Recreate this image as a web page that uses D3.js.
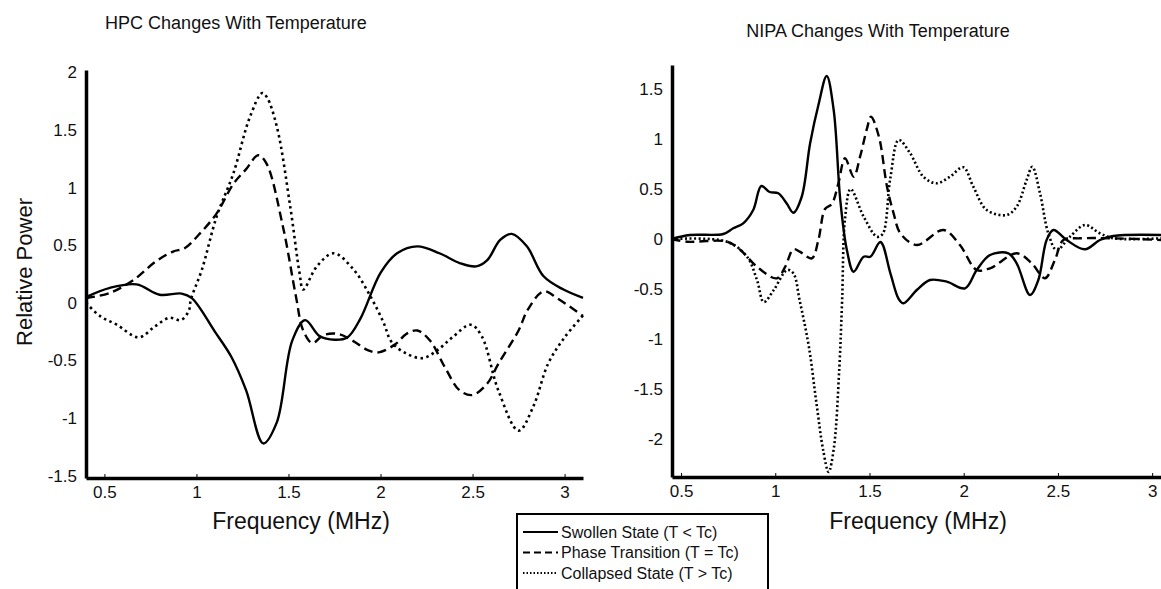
<!DOCTYPE html>
<html>
<head>
<meta charset="utf-8">
<script src="https://cdn.jsdelivr.net/npm/d3@7"></script>
<style>
  body { margin: 0; background: #fff; }
  text { font-family: "Liberation Sans", Arial, sans-serif; fill: #111; }
  .axis path, .axis line { stroke: #000; }
  .axis path { stroke-width: 3.5; }
  .axis line { stroke-width: 1; }
</style>
</head>
<body>
<div id="chart"></div>
<script>
// series: [frequency MHz, relative power]
const hpcSwollen = [[0.40,0.05],[0.53,0.13],[0.675,0.16],[0.80,0.07],[0.92,0.08],[0.975,0.04],[1.10,-0.25],
  [1.19,-0.47],[1.27,-0.76],[1.363,-1.22],[1.436,-1.04],[1.52,-0.33],[1.59,-0.15],[1.67,-0.29],[1.75,-0.32],
  [1.82,-0.30],[1.89,-0.14],[2.0,0.26],[2.09,0.43],[2.20,0.49],[2.32,0.43],[2.43,0.345],[2.52,0.316],
  [2.58,0.37],[2.65,0.546],[2.713,0.598],[2.795,0.49],[2.886,0.23],[2.994,0.115],[3.10,0.043]]
const hpcTransition = [[0.40,0.04],[0.53,0.086],[0.66,0.20],[0.78,0.36],[0.873,0.445],[0.936,0.474],[1.018,0.60],
  [1.11,0.776],[1.20,1.03],[1.27,1.16],[1.335,1.28],[1.38,1.21],[1.47,0.66],[1.54,0.06],[1.58,-0.24],
  [1.63,-0.35],[1.69,-0.28],[1.77,-0.27],[1.85,-0.33],[1.93,-0.41],[1.99,-0.43],[2.08,-0.36],[2.14,-0.27],
  [2.20,-0.24],[2.27,-0.33],[2.35,-0.56],[2.43,-0.76],[2.50,-0.80],[2.58,-0.70],[2.64,-0.53],[2.75,-0.24],
  [2.80,-0.06],[2.886,0.10],[2.96,0.04],[3.10,-0.115]]
const hpcCollapsed = [[0.40,0.0],[0.476,-0.115],[0.567,-0.19],[0.687,-0.30],[0.77,-0.21],[0.853,-0.13],[0.916,-0.15],
  [0.958,-0.07],[0.97,0.03],[1.03,0.29],[1.11,0.75],[1.20,1.12],[1.29,1.61],[1.357,1.82],[1.384,1.78],
  [1.438,1.52],[1.51,0.83],[1.56,0.26],[1.58,0.115],[1.654,0.316],[1.745,0.43],[1.853,0.29],[1.944,0.06],
  [2.016,-0.17],[2.06,-0.34],[2.14,-0.44],[2.23,-0.48],[2.31,-0.41],[2.39,-0.30],[2.49,-0.19],[2.55,-0.29],
  [2.64,-0.76],[2.75,-1.11],[2.83,-0.90],[2.91,-0.53],[3.0,-0.30],[3.10,-0.11]]

const nipaSwollen = [[0.45,0],[0.547,0.04],[0.724,0.05],[0.777,0.107],[0.83,0.157],[0.883,0.29],[0.926,0.53],
  [0.97,0.47],[1.016,0.457],[1.06,0.357],[1.096,0.263],[1.14,0.42],[1.185,0.957],[1.229,1.34],[1.273,1.63],
  [1.31,1.29],[1.345,0.39],[1.38,-0.11],[1.416,-0.327],[1.469,-0.177],[1.505,-0.177],[1.558,-0.03],
  [1.611,-0.343],[1.655,-0.60],[1.68,-0.643],[1.751,-0.51],[1.821,-0.41],[1.91,-0.427],[2.007,-0.493],
  [2.069,-0.31],[2.14,-0.16],[2.237,-0.143],[2.281,-0.243],[2.352,-0.56],[2.396,-0.41],[2.44,-0.01],
  [2.476,0.09],[2.546,-0.01],[2.643,-0.103],[2.723,-0.01],[2.794,0.03],[3.047,0.04]]
const nipaTransition = [[0.45,0],[0.531,-0.027],[0.744,-0.027],[0.815,-0.11],[0.903,-0.277],[1.008,-0.393],
  [1.053,-0.277],[1.096,-0.103],[1.13,-0.127],[1.194,-0.193],[1.23,0.0],[1.264,0.3],[1.30,0.35],[1.335,0.557],
  [1.37,0.807],[1.416,0.623],[1.45,0.823],[1.487,1.107],[1.508,1.223],[1.55,1.023],[1.593,0.523],[1.628,0.257],
  [1.664,0.057],[1.751,-0.06],[1.892,0.09],[1.98,-0.06],[2.069,-0.31],[2.14,-0.293],[2.281,-0.143],
  [2.361,-0.243],[2.431,-0.393],[2.484,-0.21],[2.529,-0.01],[2.617,0.007],[2.794,0.007],[3.047,-0.01]]
const nipaCollapsed = [[0.45,0],[0.744,-0.027],[0.85,-0.177],[0.903,-0.41],[0.939,-0.63],[0.992,-0.51],[1.063,-0.31],
  [1.096,-0.343],[1.13,-0.62],[1.179,-1.084],[1.217,-1.62],[1.255,-2.12],[1.283,-2.33],[1.311,-2.09],
  [1.34,-1.285],[1.355,-0.6],[1.37,0.2],[1.40,0.50],[1.469,0.223],[1.54,0.023],[1.57,0.05],[1.61,0.6],
  [1.655,0.99],[1.715,0.86],[1.786,0.623],[1.856,0.557],[1.927,0.623],[1.998,0.717],[2.051,0.523],
  [2.122,0.29],[2.228,0.24],[2.281,0.323],[2.334,0.59],[2.364,0.723],[2.405,0.457],[2.449,0.057],
  [2.493,-0.11],[2.564,0.023],[2.643,0.14],[2.723,0.057],[2.794,0.007],[3.047,0.007]]

const xTicks = [0.5, 1, 1.5, 2, 2.5, 3]
const hpcYTicks = [-1.5, -1, -0.5, 0, 0.5, 1, 1.5, 2]
const nipaYTicks = [-2, -1.5, -1, -0.5, 0, 0.5, 1, 1.5]
const legendLabels = ['Swollen State (T < Tc)', 'Phase Transition (T = Tc)', 'Collapsed State (T > Tc)']

const width = 1161, height = 589
const font = '"Liberation Sans", Arial, sans-serif'

const svg = d3.select('#chart').append('svg')
  .attr('width', width)
  .attr('height', height)
svg.append('rect').attr('width', width).attr('height', height).attr('fill', '#fff')

function panel(opts) {
  const x = d3.scaleLinear().domain(opts.xDomain).range([opts.left, opts.right])
  const y = d3.scaleLinear().domain(opts.yDomain).range([opts.bottom, opts.top])

  const line = d3.line()
    .x(d => x(d[0]))
    .y(d => y(d[1]))
    .curve(d3.curveCatmullRom.alpha(0.5))

  opts.series.forEach((s, i) => {
    svg.append('path')
      .datum(s)
      .attr('d', line)
      .attr('fill', 'none')
      .attr('stroke', '#000')
      .attr('stroke-width', i == 2 ? 2.6 : 2.4)
      .attr('stroke-dasharray', opts.dash[i])
  })

  const xa = svg.append('g')
    .attr('class', 'axis')
    .attr('transform', 'translate(0,' + opts.bottom + ')')
    .call(d3.axisBottom(x).tickValues(xTicks).tickSize(-4).tickSizeOuter(0).tickPadding(8).tickFormat(d => String(d)))
  xa.selectAll('text').style('font-size', '17px').style('font-family', font).attr('fill', '#111')

  const ya = svg.append('g')
    .attr('class', 'axis')
    .attr('transform', 'translate(' + opts.left + ',0)')
    .call(d3.axisLeft(y).tickValues(opts.yTicks).tickSize(0).tickSizeOuter(0).tickPadding(9).tickFormat(d => String(d)))
  ya.selectAll('text').style('font-size', '17px').style('font-family', font).attr('fill', '#111')

  svg.append('text')
    .attr('x', opts.titleX).attr('y', opts.titleY)
    .attr('text-anchor', 'middle')
    .style('font-size', '18px')
    .text(opts.title)

  svg.append('text')
    .attr('x', opts.labelX).attr('y', 529)
    .attr('text-anchor', 'middle')
    .style('font-size', '23px')
    .text('Frequency (MHz)')
}

panel({
  title: 'HPC Changes With Temperature', titleX: 236, titleY: 29,
  left: 86, right: 583, top: 70, bottom: 478, labelX: 301,
  xDomain: [0.4, 3.1], yDomain: [-1.52, 2.02], yTicks: hpcYTicks,
  series: [hpcSwollen, hpcTransition, hpcCollapsed],
  dash: ['none', '9,5', '2.5,3.5']
})

panel({
  title: 'NIPA Changes With Temperature', titleX: 878, titleY: 37,
  left: 672, right: 1161, top: 65, bottom: 477, labelX: 918,
  xDomain: [0.452, 3.047], yDomain: [-2.38, 1.74], yTicks: nipaYTicks,
  series: [nipaSwollen, nipaTransition, nipaCollapsed],
  dash: ['none', '9,5', '2,2.5']
})

// y label
svg.append('text')
  .attr('transform', 'translate(32,272) rotate(-90)')
  .attr('text-anchor', 'middle')
  .style('font-size', '22px')
  .text('Relative Power')

// legend
const legend = svg.append('g').attr('transform', 'translate(517,514)')
legend.append('rect')
  .attr('width', 251).attr('height', 90)
  .attr('fill', '#fff').attr('stroke', '#000').attr('stroke-width', 2)

legendLabels.forEach((t, i) => {
  const yy = 18 + i * 20.5
  legend.append('line')
    .attr('x1', 6).attr('x2', 41).attr('y1', yy).attr('y2', yy)
    .attr('stroke', '#000').attr('stroke-width', 2)
    .attr('stroke-dasharray', i == 0 ? 'none' : (i == 1 ? '7,4' : '1.5,2'))
  legend.append('text')
    .attr('x', 44).attr('y', yy + 5.5)
    .style('font-size', '16px')
    .text(t)
})
</script>
</body>
</html>
